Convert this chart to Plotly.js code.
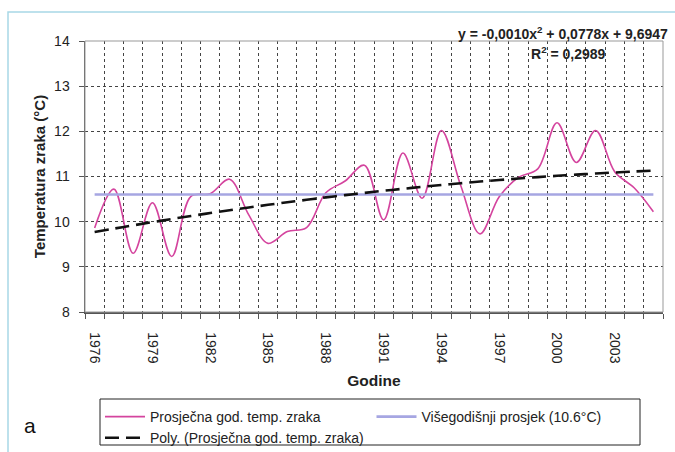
<!DOCTYPE html>
<html><head><meta charset="utf-8">
<script src="https://cdn.plot.ly/plotly-3.0.1.min.js"></script>
<style>html,body{margin:0;padding:0;background:#fff}#chart{width:675px;height:452px}</style>
</head><body><div id="chart"></div>
<script>
// ---- data ----
const years = [1976,1977,1978,1979,1980,1981,1982,1983,1984,1985,1986,1987,1988,1989,1990,
               1991,1992,1993,1994,1995,1996,1997,1998,1999,2000,2001,2002,2003,2004,2005];
const avgTemp = [9.86,10.72,9.30,10.42,9.23,10.56,10.62,10.94,10.15,9.52,9.78,9.87,10.64,10.90,11.25,
                 10.04,11.52,10.52,12.02,10.80,9.73,10.55,10.98,11.17,12.19,11.31,12.02,11.10,10.75,10.22];
const polyTrend = [9.772,9.846,9.919,9.990,10.059,10.126,10.190,10.253,10.314,10.373,10.430,10.484,10.537,10.588,10.637,
                   10.684,10.728,10.771,10.812,10.851,10.888,10.922,10.955,10.986,11.015,11.042,11.066,11.089,11.110,11.129];
const longTermMean = 10.6;
const xTickYears = [1976,1979,1982,1985,1988,1991,1994,1997,2000,2003];
const xTickLabels = ['1976','1979','1982','1985','1988','1991','1994','1997','2000','2003'];
const yTickValues = [8,9,10,11,12,13,14];
const seriesNames = ['Prosječna god. temp. zraka','Višegodišnji prosjek (10.6°C)','Poly. (Prosječna god. temp. zraka)'];
const eqText = 'y = -0,0010x<sup>2</sup> + 0,0778x + 9,6947';
const r2Text = 'R<sup>2</sup> = 0,2989';
const panelLabel = 'a';

// ---- layout helpers ----
const W = 675, H = 452, L = 85, R = 12, T = 41, B = 140;
const pw = W - L - R, ph = H - T - B;
const px = x => (x - L) / pw;
const py = y => (H - B - y) / ph;
const boundaries = [years[0] - 0.5].concat(years.map(y => y + 0.5));
const FONT = 'Liberation Sans, Arial, sans-serif';

const traces = [
  {x: years, y: avgTemp, type: 'scatter', mode: 'lines', name: seriesNames[0], legend: 'legend',
   line: {color: '#d4449e', width: 1.6, shape: 'spline', smoothing: 1}},
  {x: [years[0], years[years.length-1]], y: [longTermMean, longTermMean], type: 'scatter', mode: 'lines',
   name: seriesNames[1], legend: 'legend2', line: {color: '#a6a6e2', width: 2.6}},
  {x: years, y: polyTrend, type: 'scatter', mode: 'lines', name: seriesNames[2], legend: 'legend',
   line: {color: '#111', width: 2.6, dash: '14px,7px', shape: 'spline'}}
];

const legendCommon = {
  orientation: 'v', yanchor: 'top', xanchor: 'left',
  bordercolor: 'rgba(0,0,0,0)', borderwidth: 0, bgcolor: 'rgba(0,0,0,0)',
  font: {size: 14, color: '#222'}, itemwidth: 40, traceorder: 'normal'
};

const layout = {
  width: W, height: H,
  margin: {l: L, r: R, t: T, b: B, autoexpand: false},
  paper_bgcolor: '#fff', plot_bgcolor: '#fff',
  font: {family: FONT, color: '#222', size: 14},
  showlegend: true,
  xaxis: {
    range: [years[0] - 0.5, years[years.length-1] + 0.5],
    tickmode: 'array', tickvals: xTickYears, ticktext: xTickLabels, tickangle: 90,
    ticks: '', showgrid: false, zeroline: false,
    showline: true, linecolor: '#555', linewidth: 1.5,
    tickfont: {size: 14, color: '#222'}, ticklabelstandoff: 16,
    minor: {tickmode: 'array', tickvals: boundaries, ticks: 'outside', ticklen: 5, tickcolor: '#555',
            showgrid: true, gridcolor: '#444', griddash: 'dot', gridwidth: 1},
    title: {text: '<b>Godine</b>', font: {size: 15.5, color: '#222'}, standoff: 12}
  },
  yaxis: {
    range: [8, 14], tickmode: 'array', tickvals: yTickValues,
    ticks: 'outside', ticklen: 5, tickcolor: '#555',
    showgrid: true, gridcolor: '#444', griddash: 'dot', gridwidth: 1, zeroline: false,
    showline: true, linecolor: '#555', linewidth: 1.5,
    tickfont: {size: 14, color: '#222'}, ticklabelstandoff: 6,
    title: {text: '<b>Temperatura zraka (°C)</b>', font: {size: 15, color: '#222'}, standoff: 5}
  },
  legend: Object.assign({}, legendCommon, {x: px(100), y: py(401)}),
  legend2: Object.assign({}, legendCommon, {x: px(371.5), y: py(401)}),
  shapes: [
    {type: 'rect', xref: 'paper', yref: 'paper', x0: 0, x1: 1, y0: 0, y1: 1,
     line: {color: '#999', width: 1}, fillcolor: 'rgba(0,0,0,0)', layer: 'above'},
    {type: 'rect', xref: 'paper', yref: 'paper', x0: px(8), x1: px(720), y0: py(500), y1: py(12),
     line: {color: '#a8d8e6', width: 1.5}, fillcolor: 'rgba(0,0,0,0)', layer: 'below'},
    {type: 'rect', xref: 'paper', yref: 'paper', x0: px(100), x1: px(640), y0: py(445), y1: py(399),
     line: {color: '#222', width: 1}, fillcolor: 'rgba(0,0,0,0)', layer: 'above'}
  ],
  annotations: [
    {text: '<b>' + eqText + '</b>', xref: 'paper', yref: 'paper', x: px(670), y: py(33),
     xanchor: 'right', yanchor: 'middle', showarrow: false, font: {size: 14, color: '#222'}},
    {text: '<b>' + r2Text + '</b>', xref: 'paper', yref: 'paper', x: px(529), y: py(53),
     xanchor: 'left', yanchor: 'middle', showarrow: false, font: {size: 14, color: '#222'}},
    {text: panelLabel, xref: 'paper', yref: 'paper', x: px(22), y: py(425),
     xanchor: 'left', yanchor: 'middle', showarrow: false, font: {size: 21, color: '#111'}}
  ]
};

Plotly.newPlot('chart', traces, layout, {staticPlot: true, displayModeBar: false});
</script>
</body></html>
